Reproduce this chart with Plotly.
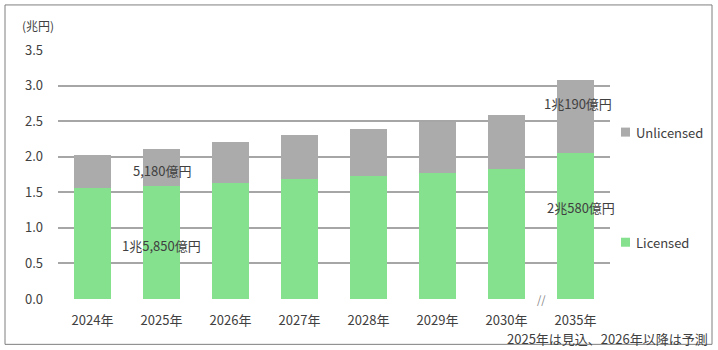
import plotly.graph_objects as go

years = ["2024年", "2025年", "2026年", "2027年", "2028年", "2029年", "2030年", "2035年"]
licensed = [1.56, 1.585, 1.633, 1.68, 1.73, 1.775, 1.825, 2.058]
unlicensed = [0.47, 0.518, 0.567, 0.62, 0.66, 0.715, 0.765, 1.019]
yticks = [0.0, 0.5, 1.0, 1.5, 2.0, 2.5, 3.0, 3.5]

FONT = "Noto Sans CJK JP"
TXT = "#404040"
GREEN = "#86e18f"
GRAY = "#ababab"

# plot area pixel geometry
L, R, T, B = 58, 610, 50, 298.7
PW, PH = R - L, B - T


def px(x):
    return (x - L) / PW


def py(y):
    return (B - y) / PH


fig = go.Figure()
fig.add_trace(go.Bar(x=years, y=licensed, name="Licensed", marker_color=GREEN,
                     marker_line_width=0, showlegend=False))
fig.add_trace(go.Bar(x=years, y=unlicensed, name="Unlicensed", marker_color=GRAY,
                     marker_line_width=0, showlegend=False))

fig.update_layout(
    barmode="stack", bargap=0.45,
    width=718, height=350,
    margin=dict(l=L, r=718 - R, t=T, b=350 - B),
    paper_bgcolor="white", plot_bgcolor="white",
    font=dict(family=FONT, size=13, color=TXT),
    showlegend=False,
    xaxis=dict(showgrid=False, showline=False, ticks="", ticklabelstandoff=12,
               range=[-0.5, 7.5],
               tickfont=dict(size=13, color=TXT)),
    yaxis=dict(range=[0, 3.5], tickvals=yticks, ticktext=[f"{v:.1f}" for v in yticks],
               showgrid=True, gridcolor="#a6a6a6", gridwidth=2, zeroline=False,
               showline=False, ticks="", ticklabelstandoff=14,
               minor=dict(tickvals=[0.5, 1.5, 2.5, 3.5], showgrid=True, gridcolor="#404040", gridwidth=1),
               tickfont=dict(size=13, color=TXT)),
)

# axis break
fig.add_shape(type="rect", xref="x", yref="paper", x0=6.38, x1=6.63, y0=-0.012, y1=0.012,
              fillcolor="white", line_width=0, layer="above")
fig.add_annotation(x=6.5, y=0, xref="x", yref="y", text="//", showarrow=False,
                   font=dict(size=11, color="#7f7f7f"))

anns = [
    (1, 1.81, "5,180億円", 0),
    (1, 0.755, "1兆5,850億円", 0),
    (7, 2.75, "1兆190億円", 2),
    (7, 1.28, "2兆580億円", 5),
]
for xi, yv, t, xs in anns:
    fig.add_annotation(x=xi, y=yv, xref="x", yref="y", text=t, showarrow=False, xshift=xs,
                       font=dict(size=13, color=TXT))

# manual legend
for name, col, ypix in [("Unlicensed", GRAY, 132), ("Licensed", GREEN, 242)]:
    fig.add_shape(type="rect", xref="paper", yref="paper",
                  x0=px(621), x1=px(630), y0=py(ypix + 4.5), y1=py(ypix - 4.5),
                  fillcolor=col, line_width=0)
    fig.add_annotation(x=px(634), y=py(ypix), xref="paper", yref="paper", text=name,
                       showarrow=False, xanchor="left", yanchor="middle",
                       font=dict(size=13, color=TXT))

fig.add_annotation(x=px(38), y=py(26), xref="paper", yref="paper", text="(兆円)", showarrow=False,
                   xanchor="center", yanchor="middle", font=dict(size=12, color=TXT))
fig.add_annotation(x=px(710), y=py(338), xref="paper", yref="paper",
                   text="2025年は見込、2026年以降は予測", showarrow=False,
                   xanchor="right", yanchor="middle", font=dict(size=13, color=TXT))
# outer border
fig.add_shape(type="rect", xref="paper", yref="paper",
              x0=px(5), x1=px(712), y0=py(344), y1=py(5),
              line=dict(color="#7f7f7f", width=1), fillcolor="rgba(0,0,0,0)")

fig.write_html("out.html")
